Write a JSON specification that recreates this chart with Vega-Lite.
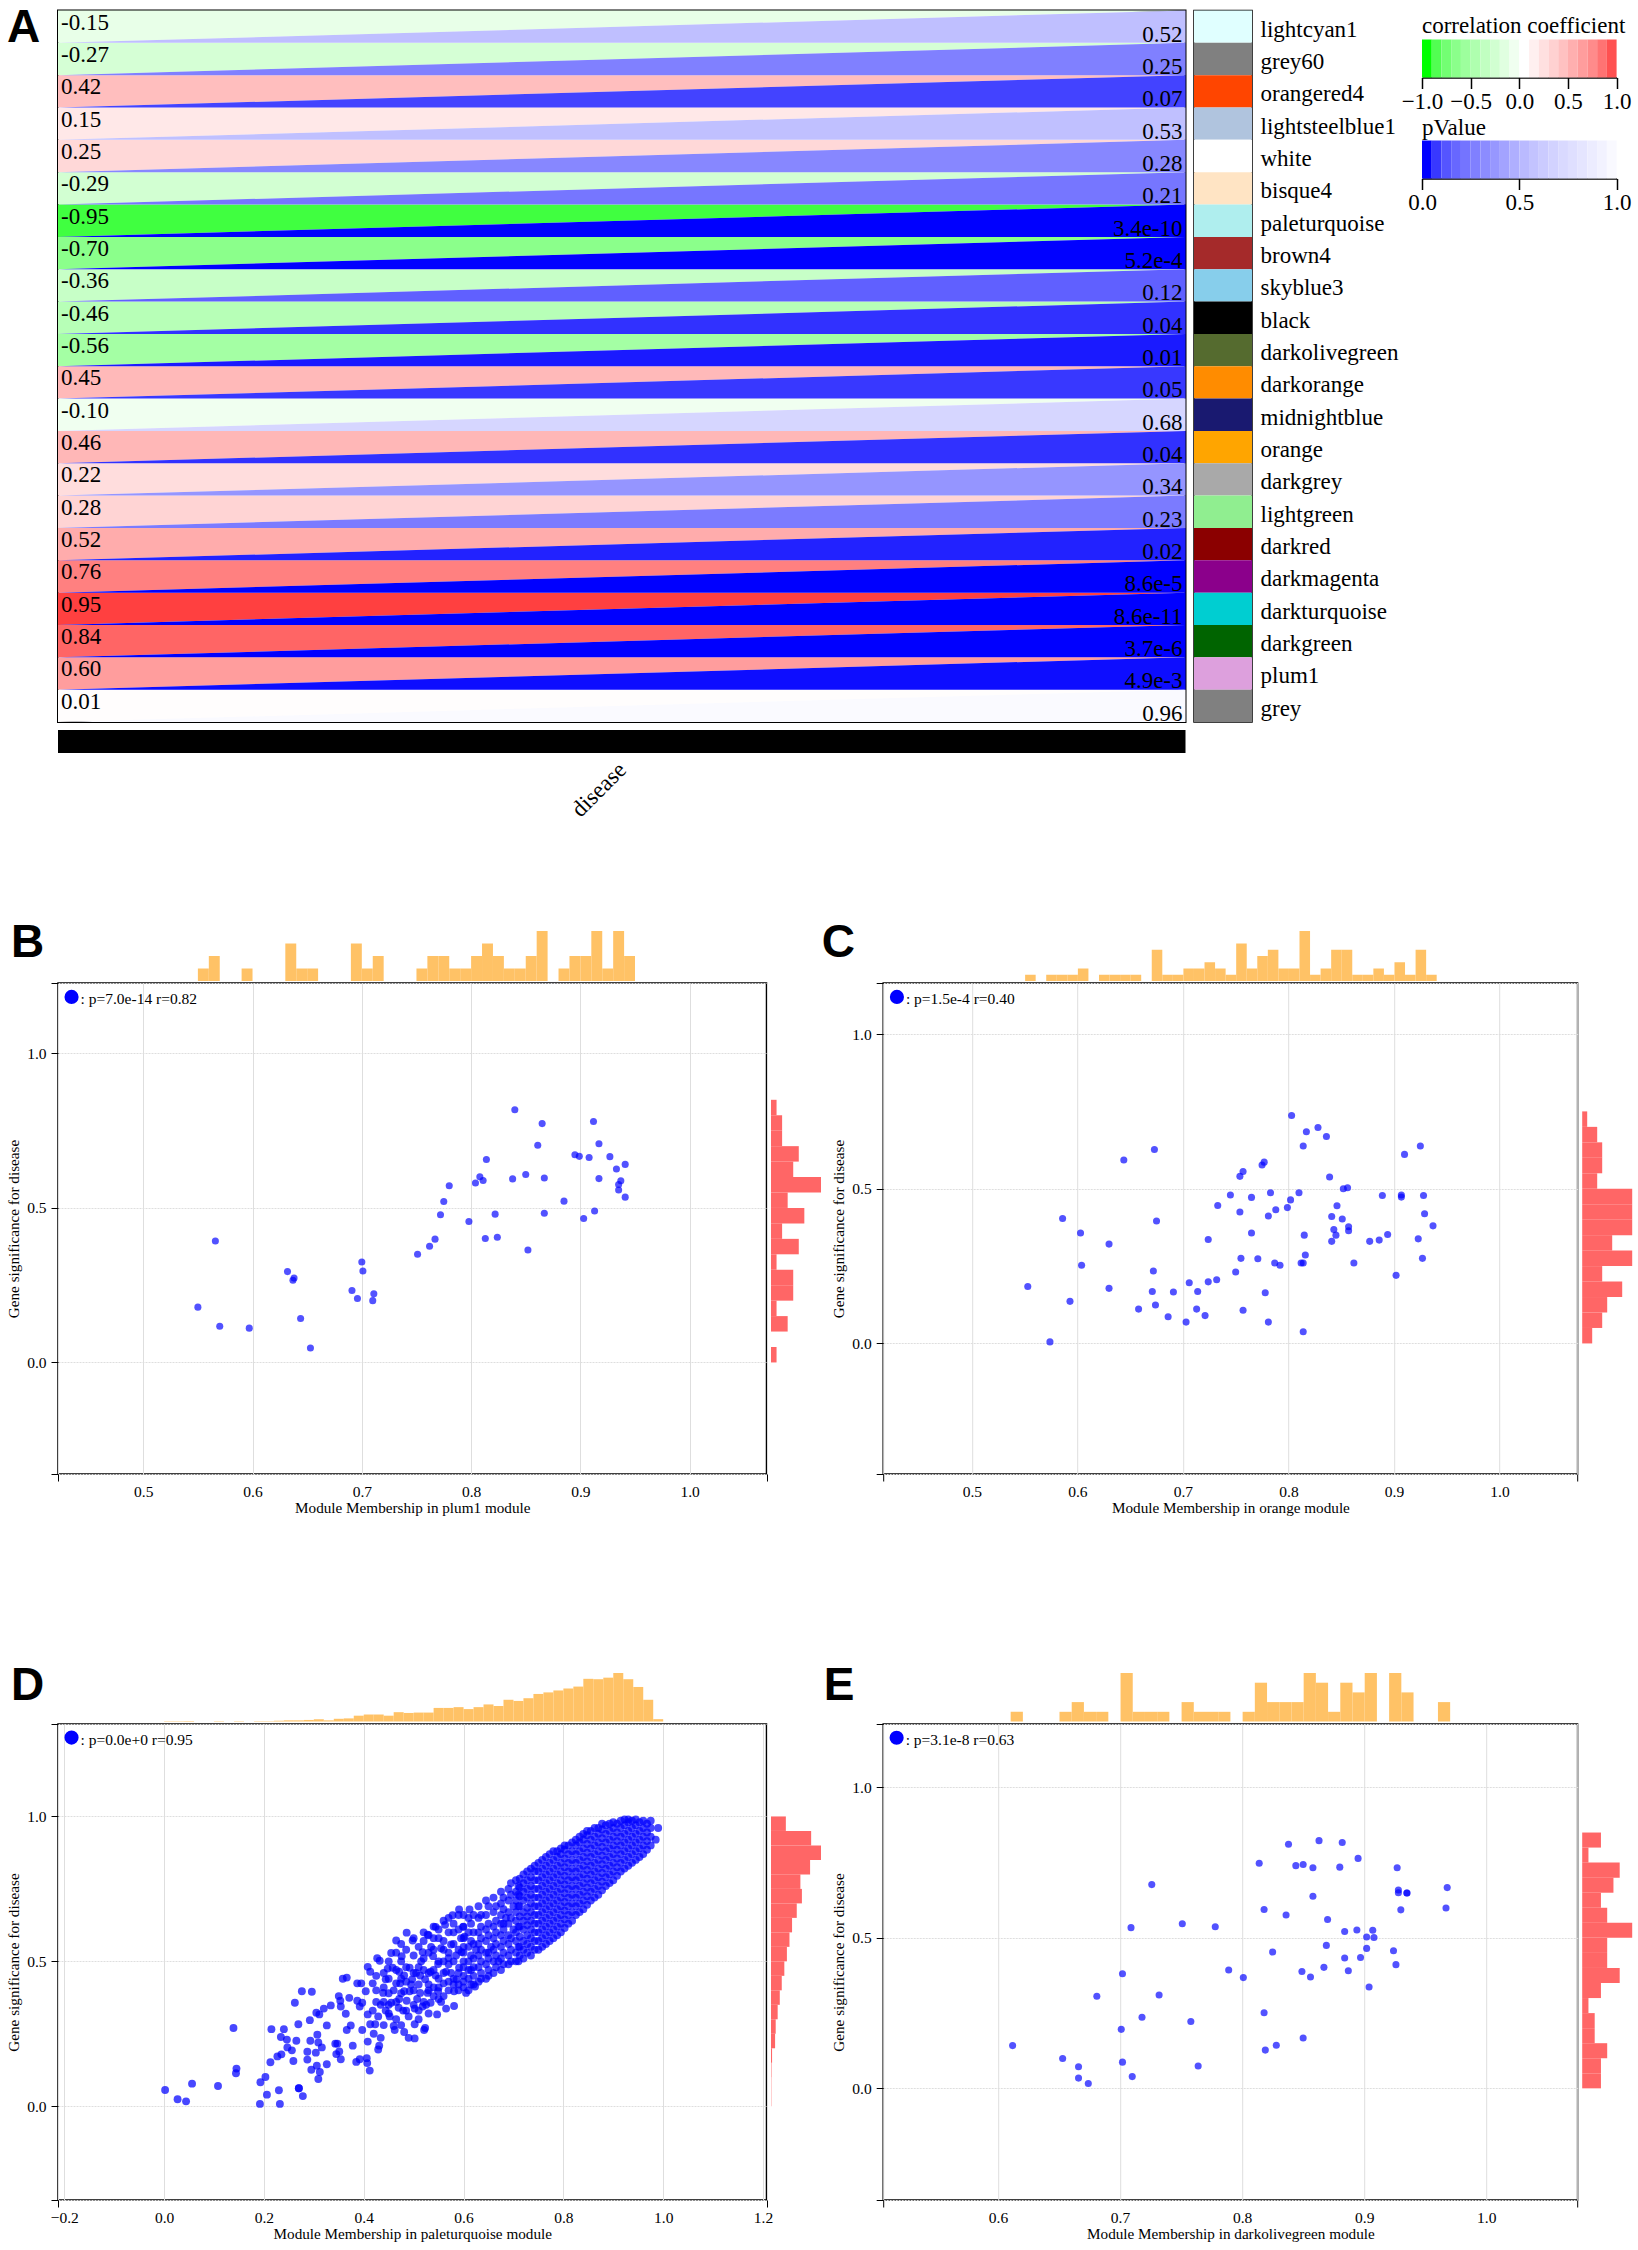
{"$schema":"https://vega.github.io/schema/vega-lite/v6.json","background":"white","padding":{"left":5,"top":3.5,"right":0,"bottom":0},"bounds":"flush","spacing":920.5,"resolve":{"scale":{"color":"independent"}},
"config":{"font":"Liberation Serif","view":{"stroke":null},"axis":{"labelFontSize":15.5,"titleFontSize":15.2,"titleFontWeight":"normal","labelColor":"black","titleColor":"black","tickColor":"black","gridColor":"#dedede","labelOverlap":false,"labelFlush":false}},
"datasets":{
"heat":[{"module":"lightcyan1","row":0,"x":0,"ct":0,"cb":1,"pt":1,"pb":1,"corr":-0.15,"p":0.52},{"module":"lightcyan1","row":0,"x":1,"ct":0,"cb":0,"pt":0,"pb":1,"corr":-0.15,"p":0.52},
{"module":"grey60","row":1,"x":0,"ct":1,"cb":2,"pt":2,"pb":2,"corr":-0.27,"p":0.25},{"module":"grey60","row":1,"x":1,"ct":1,"cb":1,"pt":1,"pb":2,"corr":-0.27,"p":0.25},
{"module":"orangered4","row":2,"x":0,"ct":2,"cb":3,"pt":3,"pb":3,"corr":0.42,"p":0.07},{"module":"orangered4","row":2,"x":1,"ct":2,"cb":2,"pt":2,"pb":3,"corr":0.42,"p":0.07},
{"module":"lightsteelblue1","row":3,"x":0,"ct":3,"cb":4,"pt":4,"pb":4,"corr":0.15,"p":0.53},{"module":"lightsteelblue1","row":3,"x":1,"ct":3,"cb":3,"pt":3,"pb":4,"corr":0.15,"p":0.53},
{"module":"white","row":4,"x":0,"ct":4,"cb":5,"pt":5,"pb":5,"corr":0.25,"p":0.28},{"module":"white","row":4,"x":1,"ct":4,"cb":4,"pt":4,"pb":5,"corr":0.25,"p":0.28},
{"module":"bisque4","row":5,"x":0,"ct":5,"cb":6,"pt":6,"pb":6,"corr":-0.29,"p":0.21},{"module":"bisque4","row":5,"x":1,"ct":5,"cb":5,"pt":5,"pb":6,"corr":-0.29,"p":0.21},
{"module":"paleturquoise","row":6,"x":0,"ct":6,"cb":7,"pt":7,"pb":7,"corr":-0.95,"p":3.4e-10},{"module":"paleturquoise","row":6,"x":1,"ct":6,"cb":6,"pt":6,"pb":7,"corr":-0.95,"p":3.4e-10},
{"module":"brown4","row":7,"x":0,"ct":7,"cb":8,"pt":8,"pb":8,"corr":-0.70,"p":5.2e-4},{"module":"brown4","row":7,"x":1,"ct":7,"cb":7,"pt":7,"pb":8,"corr":-0.70,"p":5.2e-4},
{"module":"skyblue3","row":8,"x":0,"ct":8,"cb":9,"pt":9,"pb":9,"corr":-0.36,"p":0.12},{"module":"skyblue3","row":8,"x":1,"ct":8,"cb":8,"pt":8,"pb":9,"corr":-0.36,"p":0.12},
{"module":"black","row":9,"x":0,"ct":9,"cb":10,"pt":10,"pb":10,"corr":-0.46,"p":0.04},{"module":"black","row":9,"x":1,"ct":9,"cb":9,"pt":9,"pb":10,"corr":-0.46,"p":0.04},
{"module":"darkolivegreen","row":10,"x":0,"ct":10,"cb":11,"pt":11,"pb":11,"corr":-0.56,"p":0.01},{"module":"darkolivegreen","row":10,"x":1,"ct":10,"cb":10,"pt":10,"pb":11,"corr":-0.56,"p":0.01},
{"module":"darkorange","row":11,"x":0,"ct":11,"cb":12,"pt":12,"pb":12,"corr":0.45,"p":0.05},{"module":"darkorange","row":11,"x":1,"ct":11,"cb":11,"pt":11,"pb":12,"corr":0.45,"p":0.05},
{"module":"midnightblue","row":12,"x":0,"ct":12,"cb":13,"pt":13,"pb":13,"corr":-0.10,"p":0.68},{"module":"midnightblue","row":12,"x":1,"ct":12,"cb":12,"pt":12,"pb":13,"corr":-0.10,"p":0.68},
{"module":"orange","row":13,"x":0,"ct":13,"cb":14,"pt":14,"pb":14,"corr":0.46,"p":0.04},{"module":"orange","row":13,"x":1,"ct":13,"cb":13,"pt":13,"pb":14,"corr":0.46,"p":0.04},
{"module":"darkgrey","row":14,"x":0,"ct":14,"cb":15,"pt":15,"pb":15,"corr":0.22,"p":0.34},{"module":"darkgrey","row":14,"x":1,"ct":14,"cb":14,"pt":14,"pb":15,"corr":0.22,"p":0.34},
{"module":"lightgreen","row":15,"x":0,"ct":15,"cb":16,"pt":16,"pb":16,"corr":0.28,"p":0.23},{"module":"lightgreen","row":15,"x":1,"ct":15,"cb":15,"pt":15,"pb":16,"corr":0.28,"p":0.23},
{"module":"darkred","row":16,"x":0,"ct":16,"cb":17,"pt":17,"pb":17,"corr":0.52,"p":0.02},{"module":"darkred","row":16,"x":1,"ct":16,"cb":16,"pt":16,"pb":17,"corr":0.52,"p":0.02},
{"module":"darkmagenta","row":17,"x":0,"ct":17,"cb":18,"pt":18,"pb":18,"corr":0.76,"p":8.6e-5},{"module":"darkmagenta","row":17,"x":1,"ct":17,"cb":17,"pt":17,"pb":18,"corr":0.76,"p":8.6e-5},
{"module":"darkturquoise","row":18,"x":0,"ct":18,"cb":19,"pt":19,"pb":19,"corr":0.95,"p":8.6e-11},{"module":"darkturquoise","row":18,"x":1,"ct":18,"cb":18,"pt":18,"pb":19,"corr":0.95,"p":8.6e-11},
{"module":"darkgreen","row":19,"x":0,"ct":19,"cb":20,"pt":20,"pb":20,"corr":0.84,"p":3.7e-6},{"module":"darkgreen","row":19,"x":1,"ct":19,"cb":19,"pt":19,"pb":20,"corr":0.84,"p":3.7e-6},
{"module":"plum1","row":20,"x":0,"ct":20,"cb":21,"pt":21,"pb":21,"corr":0.60,"p":4.9e-3},{"module":"plum1","row":20,"x":1,"ct":20,"cb":20,"pt":20,"pb":21,"corr":0.60,"p":4.9e-3},
{"module":"grey","row":21,"x":0,"ct":21,"cb":22,"pt":22,"pb":22,"corr":0.01,"p":0.96},{"module":"grey","row":21,"x":1,"ct":21,"cb":21,"pt":21,"pb":22,"corr":0.01,"p":0.96}],
"modules":[{"module":"lightcyan1","row":0,"c":"-0.15","q":"0.52"},{"module":"grey60","row":1,"c":"-0.27","q":"0.25"},{"module":"orangered4","row":2,"c":"0.42","q":"0.07"},{"module":"lightsteelblue1","row":3,"c":"0.15","q":"0.53"},{"module":"white","row":4,"c":"0.25","q":"0.28"},{"module":"bisque4","row":5,"c":"-0.29","q":"0.21"},{"module":"paleturquoise","row":6,"c":"-0.95","q":"3.4e-10"},{"module":"brown4","row":7,"c":"-0.70","q":"5.2e-4"},{"module":"skyblue3","row":8,"c":"-0.36","q":"0.12"},{"module":"black","row":9,"c":"-0.46","q":"0.04"},{"module":"darkolivegreen","row":10,"c":"-0.56","q":"0.01"},{"module":"darkorange","row":11,"c":"0.45","q":"0.05"},{"module":"midnightblue","row":12,"c":"-0.10","q":"0.68"},{"module":"orange","row":13,"c":"0.46","q":"0.04"},{"module":"darkgrey","row":14,"c":"0.22","q":"0.34"},{"module":"lightgreen","row":15,"c":"0.28","q":"0.23"},{"module":"darkred","row":16,"c":"0.52","q":"0.02"},{"module":"darkmagenta","row":17,"c":"0.76","q":"8.6e-5"},{"module":"darkturquoise","row":18,"c":"0.95","q":"8.6e-11"},{"module":"darkgreen","row":19,"c":"0.84","q":"3.7e-6"},{"module":"plum1","row":20,"c":"0.60","q":"4.9e-3"},{"module":"grey","row":21,"c":"0.01","q":"0.96"}],
"legC":[{"lo":-1,"hi":-0.9},{"lo":-0.9,"hi":-0.8},{"lo":-0.8,"hi":-0.7},{"lo":-0.7,"hi":-0.6},{"lo":-0.6,"hi":-0.5},{"lo":-0.5,"hi":-0.4},{"lo":-0.4,"hi":-0.3},{"lo":-0.3,"hi":-0.2},{"lo":-0.2,"hi":-0.1},{"lo":-0.1,"hi":0},{"lo":0,"hi":0.1},{"lo":0.1,"hi":0.2},{"lo":0.2,"hi":0.3},{"lo":0.3,"hi":0.4},{"lo":0.4,"hi":0.5},{"lo":0.5,"hi":0.6},{"lo":0.6,"hi":0.7},{"lo":0.7,"hi":0.8},{"lo":0.8,"hi":0.9},{"lo":0.9,"hi":1}],
"legP":[{"lo":0,"hi":0.05},{"lo":0.05,"hi":0.1},{"lo":0.1,"hi":0.15},{"lo":0.15,"hi":0.2},{"lo":0.2,"hi":0.25},{"lo":0.25,"hi":0.3},{"lo":0.3,"hi":0.35},{"lo":0.35,"hi":0.4},{"lo":0.4,"hi":0.45},{"lo":0.45,"hi":0.5},{"lo":0.5,"hi":0.55},{"lo":0.55,"hi":0.6},{"lo":0.6,"hi":0.65},{"lo":0.65,"hi":0.7},{"lo":0.7,"hi":0.75},{"lo":0.75,"hi":0.8},{"lo":0.8,"hi":0.85},{"lo":0.85,"hi":0.9},{"lo":0.9,"hi":0.95},{"lo":0.95,"hi":1}],
"pB":[{"x":0.550,"y":0.179},{"x":0.566,"y":0.393},{"x":0.570,"y":0.117},{"x":0.597,"y":0.111},{"x":0.632,"y":0.294},{"x":0.638,"y":0.273},{"x":0.637,"y":0.266},{"x":0.644,"y":0.142},{"x":0.653,"y":0.047},{"x":0.691,"y":0.233},{"x":0.696,"y":0.207},{"x":0.700,"y":0.325},{"x":0.701,"y":0.296},{"x":0.710,"y":0.200},{"x":0.711,"y":0.222},{"x":0.751,"y":0.350},{"x":0.762,"y":0.376},{"x":0.767,"y":0.399},{"x":0.772,"y":0.478},{"x":0.775,"y":0.521},{"x":0.780,"y":0.572},{"x":0.798,"y":0.456},{"x":0.804,"y":0.581},{"x":0.808,"y":0.601},{"x":0.811,"y":0.589},{"x":0.813,"y":0.401},{"x":0.814,"y":0.657},{"x":0.822,"y":0.480},{"x":0.824,"y":0.405},{"x":0.838,"y":0.594},{"x":0.840,"y":0.818},{"x":0.850,"y":0.608},{"x":0.852,"y":0.364},{"x":0.861,"y":0.703},{"x":0.865,"y":0.773},{"x":0.867,"y":0.483},{"x":0.867,"y":0.597},{"x":0.885,"y":0.522},{"x":0.895,"y":0.672},{"x":0.899,"y":0.667},{"x":0.903,"y":0.466},{"x":0.908,"y":0.663},{"x":0.912,"y":0.780},{"x":0.913,"y":0.490},{"x":0.917,"y":0.708},{"x":0.917,"y":0.595},{"x":0.927,"y":0.666},{"x":0.933,"y":0.626},{"x":0.935,"y":0.576},{"x":0.937,"y":0.588},{"x":0.935,"y":0.558},{"x":0.941,"y":0.641},{"x":0.941,"y":0.535}],
"pC":[{"x":0.553,"y":0.184},{"x":0.574,"y":0.005},{"x":0.586,"y":0.404},{"x":0.593,"y":0.136},{"x":0.603,"y":0.357},{"x":0.604,"y":0.253},{"x":0.630,"y":0.321},{"x":0.630,"y":0.178},{"x":0.644,"y":0.593},{"x":0.658,"y":0.111},{"x":0.671,"y":0.168},{"x":0.672,"y":0.234},{"x":0.673,"y":0.627},{"x":0.674,"y":0.124},{"x":0.675,"y":0.396},{"x":0.686,"y":0.086},{"x":0.691,"y":0.166},{"x":0.703,"y":0.069},{"x":0.706,"y":0.196},{"x":0.713,"y":0.111},{"x":0.714,"y":0.168},{"x":0.721,"y":0.090},{"x":0.724,"y":0.336},{"x":0.724,"y":0.199},{"x":0.732,"y":0.206},{"x":0.733,"y":0.446},{"x":0.745,"y":0.480},{"x":0.750,"y":0.231},{"x":0.754,"y":0.540},{"x":0.754,"y":0.425},{"x":0.755,"y":0.275},{"x":0.757,"y":0.107},{"x":0.757,"y":0.556},{"x":0.765,"y":0.472},{"x":0.765,"y":0.357},{"x":0.771,"y":0.274},{"x":0.775,"y":0.577},{"x":0.777,"y":0.586},{"x":0.778,"y":0.164},{"x":0.781,"y":0.412},{"x":0.781,"y":0.069},{"x":0.783,"y":0.487},{"x":0.787,"y":0.260},{"x":0.788,"y":0.432},{"x":0.792,"y":0.253},{"x":0.799,"y":0.439},{"x":0.802,"y":0.464},{"x":0.803,"y":0.737},{"x":0.810,"y":0.487},{"x":0.812,"y":0.260},{"x":0.814,"y":0.260},{"x":0.814,"y":0.638},{"x":0.814,"y":0.038},{"x":0.815,"y":0.350},{"x":0.816,"y":0.286},{"x":0.817,"y":0.684},{"x":0.828,"y":0.698},{"x":0.836,"y":0.669},{"x":0.839,"y":0.538},{"x":0.841,"y":0.410},{"x":0.841,"y":0.330},{"x":0.843,"y":0.368},{"x":0.845,"y":0.350},{"x":0.846,"y":0.445},{"x":0.851,"y":0.402},{"x":0.852,"y":0.500},{"x":0.856,"y":0.503},{"x":0.857,"y":0.377},{"x":0.857,"y":0.364},{"x":0.862,"y":0.260},{"x":0.877,"y":0.330},{"x":0.886,"y":0.334},{"x":0.889,"y":0.478},{"x":0.894,"y":0.352},{"x":0.902,"y":0.220},{"x":0.907,"y":0.480},{"x":0.907,"y":0.473},{"x":0.910,"y":0.611},{"x":0.923,"y":0.338},{"x":0.925,"y":0.638},{"x":0.927,"y":0.275},{"x":0.928,"y":0.478},{"x":0.929,"y":0.419},{"x":0.937,"y":0.380}],
"pE":[{"x":0.612,"y":0.142},{"x":0.653,"y":0.099},{"x":0.666,"y":0.072},{"x":0.666,"y":0.034},{"x":0.674,"y":0.016},{"x":0.681,"y":0.306},{"x":0.701,"y":0.196},{"x":0.702,"y":0.381},{"x":0.702,"y":0.087},{"x":0.709,"y":0.534},{"x":0.710,"y":0.039},{"x":0.718,"y":0.236},{"x":0.726,"y":0.677},{"x":0.732,"y":0.310},{"x":0.751,"y":0.547},{"x":0.758,"y":0.222},{"x":0.764,"y":0.074},{"x":0.778,"y":0.537},{"x":0.789,"y":0.393},{"x":0.801,"y":0.368},{"x":0.814,"y":0.748},{"x":0.818,"y":0.251},{"x":0.818,"y":0.594},{"x":0.819,"y":0.127},{"x":0.825,"y":0.453},{"x":0.828,"y":0.143},{"x":0.836,"y":0.576},{"x":0.838,"y":0.811},{"x":0.844,"y":0.740},{"x":0.849,"y":0.388},{"x":0.850,"y":0.167},{"x":0.850,"y":0.744},{"x":0.856,"y":0.370},{"x":0.858,"y":0.733},{"x":0.858,"y":0.638},{"x":0.863,"y":0.823},{"x":0.867,"y":0.402},{"x":0.869,"y":0.475},{"x":0.870,"y":0.561},{"x":0.880,"y":0.735},{"x":0.882,"y":0.817},{"x":0.884,"y":0.521},{"x":0.884,"y":0.433},{"x":0.887,"y":0.391},{"x":0.894,"y":0.526},{"x":0.895,"y":0.764},{"x":0.897,"y":0.435},{"x":0.902,"y":0.503},{"x":0.902,"y":0.465},{"x":0.904,"y":0.337},{"x":0.907,"y":0.525},{"x":0.908,"y":0.501},{"x":0.924,"y":0.457},{"x":0.926,"y":0.411},{"x":0.927,"y":0.733},{"x":0.928,"y":0.659},{"x":0.928,"y":0.650},{"x":0.930,"y":0.593},{"x":0.935,"y":0.649},{"x":0.935,"y":0.649},{"x":0.967,"y":0.599},{"x":0.968,"y":0.667}],
"pD":[{"x":0.002,"y":0.056},{"x":0.027,"y":0.024},{"x":0.044,"y":0.017},{"x":0.056,"y":0.078},{"x":0.108,"y":0.070},{"x":0.139,"y":0.270},{"x":0.145,"y":0.130},{"x":0.144,"y":0.114},{"x":0.192,"y":0.008},{"x":0.193,"y":0.083},{"x":0.203,"y":0.101},{"x":0.206,"y":0.040},{"x":0.213,"y":0.152},{"x":0.215,"y":0.266},{"x":0.227,"y":0.172},{"x":0.230,"y":0.055},{"x":0.232,"y":0.008},{"x":0.234,"y":0.239},{"x":0.235,"y":0.179},{"x":0.240,"y":0.266},{"x":0.246,"y":0.230},{"x":0.247,"y":0.203},{"x":0.256,"y":0.193},{"x":0.259,"y":0.156},{"x":0.262,"y":0.357},{"x":0.265,"y":0.226},{"x":0.269,"y":0.283},{"x":0.270,"y":0.062},{"x":0.270,"y":0.062},{"x":0.276,"y":0.397},{"x":0.278,"y":0.035},{"x":0.287,"y":0.188},{"x":0.287,"y":0.161},{"x":0.292,"y":0.297},{"x":0.295,"y":0.126},{"x":0.293,"y":0.226},{"x":0.296,"y":0.395},{"x":0.304,"y":0.185},{"x":0.306,"y":0.140},{"x":0.307,"y":0.247},{"x":0.309,"y":0.094},{"x":0.309,"y":0.220},{"x":0.312,"y":0.118},{"x":0.316,"y":0.203},{"x":0.305,"y":0.323},{"x":0.311,"y":0.317},{"x":0.320,"y":0.337},{"x":0.326,"y":0.279},{"x":0.326,"y":0.145},{"x":0.334,"y":0.348},{"x":0.343,"y":0.216},{"x":0.347,"y":0.216},{"x":0.345,"y":0.180},{"x":0.350,"y":0.380},{"x":0.353,"y":0.364},{"x":0.354,"y":0.344},{"x":0.351,"y":0.189},{"x":0.354,"y":0.162},{"x":0.358,"y":0.440},{"x":0.366,"y":0.444},{"x":0.364,"y":0.319},{"x":0.366,"y":0.263},{"x":0.371,"y":0.374},{"x":0.374,"y":0.279},{"x":0.378,"y":0.209},{"x":0.385,"y":0.153},{"x":0.387,"y":0.424},{"x":0.392,"y":0.162},{"x":0.387,"y":0.364},{"x":0.395,"y":0.424},{"x":0.397,"y":0.357},{"x":0.392,"y":0.344},{"x":0.397,"y":0.263},{"x":0.406,"y":0.166},{"x":0.407,"y":0.149},{"x":0.408,"y":0.223},{"x":0.412,"y":0.123},{"x":0.408,"y":0.481},{"x":0.413,"y":0.464},{"x":0.418,"y":0.424},{"x":0.404,"y":0.397},{"x":0.418,"y":0.330},{"x":0.420,"y":0.250},{"x":0.429,"y":0.196},{"x":0.427,"y":0.511},{"x":0.432,"y":0.502},{"x":0.431,"y":0.209},{"x":0.434,"y":0.236},{"x":0.439,"y":0.391},{"x":0.444,"y":0.438},{"x":0.448,"y":0.475},{"x":0.450,"y":0.350},{"x":0.452,"y":0.310},{"x":0.455,"y":0.529},{"x":0.458,"y":0.478},{"x":0.460,"y":0.277},{"x":0.462,"y":0.263},{"x":0.465,"y":0.572},{"x":0.471,"y":0.464},{"x":0.473,"y":0.424},{"x":0.479,"y":0.330},{"x":0.476,"y":0.518},{"x":0.481,"y":0.256},{"x":0.486,"y":0.599},{"x":0.490,"y":0.236},{"x":0.498,"y":0.572},{"x":0.502,"y":0.234},{"x":0.502,"y":0.283},{"x":0.492,"y":0.397},{"x":0.507,"y":0.370},{"x":0.513,"y":0.451},{"x":0.518,"y":0.532},{"x":0.523,"y":0.270},{"x":0.521,"y":0.263},{"x":0.528,"y":0.592},{"x":0.534,"y":0.464},{"x":0.544,"y":0.619},{"x":0.549,"y":0.397},{"x":0.547,"y":0.317},{"x":0.563,"y":0.626},{"x":0.565,"y":0.337},{"x":0.581,"y":0.346},{"x":0.578,"y":0.659},{"x":0.591,"y":0.679},{"x":0.599,"y":0.619},{"x":0.605,"y":0.391},{"x":0.612,"y":0.679},{"x":0.623,"y":0.413},
{"x":0.408,"y":0.317},{"x":0.413,"y":0.283},{"x":0.423,"y":0.283},{"x":0.429,"y":0.310},{"x":0.434,"y":0.350},{"x":0.444,"y":0.330},{"x":0.455,"y":0.357},{"x":0.465,"y":0.424},{"x":0.471,"y":0.370},{"x":0.481,"y":0.397},{"x":0.486,"y":0.364},{"x":0.481,"y":0.451},{"x":0.492,"y":0.478},{"x":0.497,"y":0.438},{"x":0.502,"y":0.337},{"x":0.513,"y":0.391},{"x":0.518,"y":0.344},{"x":0.523,"y":0.438},{"x":0.528,"y":0.391},{"x":0.534,"y":0.357},{"x":0.539,"y":0.518},{"x":0.544,"y":0.451},{"x":0.549,"y":0.491},{"x":0.555,"y":0.545},{"x":0.560,"y":0.424},{"x":0.565,"y":0.464},{"x":0.570,"y":0.511},{"x":0.575,"y":0.558},{"x":0.581,"y":0.397},{"x":0.586,"y":0.438},{"x":0.591,"y":0.478},{"x":0.596,"y":0.532},{"x":0.602,"y":0.585},
{"x":0.46,"y":0.4},{"x":0.47,"y":0.34},{"x":0.475,"y":0.44},{"x":0.49,"y":0.31},{"x":0.495,"y":0.42},{"x":0.505,"y":0.46},{"x":0.51,"y":0.3},{"x":0.515,"y":0.5},{"x":0.525,"y":0.35},{"x":0.53,"y":0.42},{"x":0.535,"y":0.55},{"x":0.54,"y":0.38},{"x":0.55,"y":0.44},{"x":0.555,"y":0.36},{"x":0.56,"y":0.5},{"x":0.57,"y":0.4},{"x":0.575,"y":0.46},{"x":0.58,"y":0.6},{"x":0.585,"y":0.52},{"x":0.59,"y":0.42},{"x":0.595,"y":0.58},{"x":0.61,"y":0.44},{"x":0.62,"y":0.48},{"x":0.625,"y":0.54},{"x":0.635,"y":0.62},{"x":0.65,"y":0.47},{"x":0.655,"y":0.55},{"x":0.665,"y":0.6},{"x":0.67,"y":0.5},{"x":0.68,"y":0.57},{"x":0.685,"y":0.65},{"x":0.695,"y":0.54},{"x":0.7,"y":0.61},{"x":0.7,"y":0.69},
{"x":0.425,"y":0.36},{"x":0.425,"y":0.4},{"x":0.425,"y":0.45},{"x":0.44,"y":0.28},{"x":0.44,"y":0.36},{"x":0.44,"y":0.41},{"x":0.44,"y":0.46},{"x":0.45,"y":0.32},{"x":0.45,"y":0.39},{"x":0.45,"y":0.44},{"x":0.45,"y":0.5},{"x":0.465,"y":0.3},{"x":0.465,"y":0.36},{"x":0.465,"y":0.47},{"x":0.465,"y":0.53},{"x":0.475,"y":0.28},{"x":0.475,"y":0.39},{"x":0.475,"y":0.5},{"x":0.475,"y":0.56},{"x":0.485,"y":0.33},{"x":0.485,"y":0.43},{"x":0.485,"y":0.48},{"x":0.485,"y":0.54},{"x":0.5,"y":0.35},{"x":0.5,"y":0.4},{"x":0.5,"y":0.46},{"x":0.5,"y":0.52},{"x":0.5,"y":0.58},{"x":0.51,"y":0.33},{"x":0.51,"y":0.42},{"x":0.51,"y":0.48},{"x":0.51,"y":0.55},{"x":0.52,"y":0.36},{"x":0.52,"y":0.47},{"x":0.52,"y":0.51},{"x":0.52,"y":0.57},{"x":0.52,"y":0.6},{"x":0.53,"y":0.32},{"x":0.53,"y":0.4},{"x":0.53,"y":0.46},{"x":0.53,"y":0.53},{"x":0.53,"y":0.59},{"x":0.54,"y":0.41},{"x":0.54,"y":0.47},{"x":0.54,"y":0.54},{"x":0.54,"y":0.58},{"x":0.54,"y":0.62},{"x":0.55,"y":0.37},{"x":0.55,"y":0.41},{"x":0.55,"y":0.5},{"x":0.55,"y":0.58},{"x":0.55,"y":0.61},{"x":0.56,"y":0.38},{"x":0.56,"y":0.46},{"x":0.56,"y":0.54},{"x":0.56,"y":0.57},{"x":0.56,"y":0.64},{"x":0.57,"y":0.43},{"x":0.57,"y":0.49},{"x":0.57,"y":0.53},{"x":0.57,"y":0.6},{"x":0.57,"y":0.65},{"x":0.58,"y":0.42},{"x":0.58,"y":0.44},{"x":0.58,"y":0.5},{"x":0.58,"y":0.56},{"x":0.58,"y":0.63},{"x":0.59,"y":0.4},{"x":0.59,"y":0.46},{"x":0.59,"y":0.54},{"x":0.59,"y":0.61},{"x":0.59,"y":0.66},{"x":0.6,"y":0.41},{"x":0.6,"y":0.43},{"x":0.6,"y":0.48},{"x":0.6,"y":0.53},{"x":0.6,"y":0.58},{"x":0.6,"y":0.62},{"x":0.61,"y":0.4},{"x":0.61,"y":0.47},{"x":0.61,"y":0.5},{"x":0.61,"y":0.55},{"x":0.61,"y":0.6},{"x":0.61,"y":0.65},{"x":0.62,"y":0.42},{"x":0.62,"y":0.45},{"x":0.62,"y":0.51},{"x":0.62,"y":0.56},{"x":0.62,"y":0.6},{"x":0.62,"y":0.66},{"x":0.635,"y":0.44},{"x":0.635,"y":0.46},{"x":0.635,"y":0.5},{"x":0.635,"y":0.54},{"x":0.635,"y":0.58},{"x":0.635,"y":0.66},{"x":0.65,"y":0.45},{"x":0.65,"y":0.51},{"x":0.65,"y":0.53},{"x":0.65,"y":0.59},{"x":0.65,"y":0.63},{"x":0.65,"y":0.69},{"x":0.665,"y":0.48},{"x":0.665,"y":0.52},{"x":0.665,"y":0.56},{"x":0.665,"y":0.64},{"x":0.665,"y":0.69},{"x":0.68,"y":0.49},{"x":0.68,"y":0.53},{"x":0.68,"y":0.61},{"x":0.68,"y":0.63},{"x":0.68,"y":0.68},{"x":0.68,"y":0.72},{"x":0.695,"y":0.5},{"x":0.695,"y":0.58},{"x":0.695,"y":0.65},{"x":0.695,"y":0.73},{"x":0.695,"y":0.77},{"x":0.71,"y":0.5},{"x":0.71,"y":0.55},{"x":0.71,"y":0.62},{"x":0.71,"y":0.69},{"x":0.71,"y":0.73},{"x":0.71,"y":0.76},
{"x":0.6,"y":0.45},{"x":0.6,"y":0.5},{"x":0.6,"y":0.55},{"x":0.6,"y":0.66},{"x":0.615,"y":0.42},{"x":0.615,"y":0.47},{"x":0.615,"y":0.52},{"x":0.615,"y":0.57},{"x":0.615,"y":0.63},
{"x":0.63,"y":0.43},{"x":0.63,"y":0.48},{"x":0.63,"y":0.52},{"x":0.63,"y":0.56},{"x":0.63,"y":0.6},{"x":0.63,"y":0.65},{"x":0.63,"y":0.69},
{"x":0.645,"y":0.44},{"x":0.645,"y":0.49},{"x":0.645,"y":0.53},{"x":0.645,"y":0.57},{"x":0.645,"y":0.61},{"x":0.645,"y":0.66},{"x":0.645,"y":0.71},
{"x":0.66,"y":0.46},{"x":0.66,"y":0.5},{"x":0.66,"y":0.54},{"x":0.66,"y":0.58},{"x":0.66,"y":0.62},{"x":0.66,"y":0.67},{"x":0.66,"y":0.72},
{"x":0.675,"y":0.47},{"x":0.675,"y":0.51},{"x":0.675,"y":0.55},{"x":0.675,"y":0.59},{"x":0.675,"y":0.63},{"x":0.675,"y":0.66},{"x":0.675,"y":0.7},{"x":0.675,"y":0.74},
{"x":0.69,"y":0.49},{"x":0.69,"y":0.52},{"x":0.69,"y":0.56},{"x":0.69,"y":0.59},{"x":0.69,"y":0.63},{"x":0.69,"y":0.67},{"x":0.69,"y":0.71},{"x":0.69,"y":0.75},
{"x":0.705,"y":0.5},{"x":0.705,"y":0.53},{"x":0.705,"y":0.57},{"x":0.705,"y":0.6},{"x":0.705,"y":0.64},{"x":0.705,"y":0.67},{"x":0.705,"y":0.71},{"x":0.705,"y":0.74},{"x":0.705,"y":0.78},
{"x":0.72,"y":0.51},{"x":0.72,"y":0.54},{"x":0.72,"y":0.57},{"x":0.72,"y":0.61},{"x":0.72,"y":0.64},{"x":0.72,"y":0.67},{"x":0.72,"y":0.71},{"x":0.72,"y":0.74},{"x":0.72,"y":0.77},{"x":0.72,"y":0.8},
{"x":0.735,"y":0.52},{"x":0.735,"y":0.55},{"x":0.735,"y":0.58},{"x":0.735,"y":0.61},{"x":0.735,"y":0.64},{"x":0.735,"y":0.67},{"x":0.735,"y":0.7},{"x":0.735,"y":0.73},{"x":0.735,"y":0.76},{"x":0.735,"y":0.79},{"x":0.735,"y":0.82},
{"x":0.75,"y":0.54},{"x":0.75,"y":0.57},{"x":0.75,"y":0.6},{"x":0.75,"y":0.63},{"x":0.75,"y":0.66},{"x":0.75,"y":0.69},{"x":0.75,"y":0.72},{"x":0.75,"y":0.75},{"x":0.75,"y":0.78},{"x":0.75,"y":0.81},{"x":0.75,"y":0.84},
{"x":0.765,"y":0.56},{"x":0.765,"y":0.59},{"x":0.765,"y":0.62},{"x":0.765,"y":0.65},{"x":0.765,"y":0.68},{"x":0.765,"y":0.71},{"x":0.765,"y":0.74},{"x":0.765,"y":0.77},{"x":0.765,"y":0.8},{"x":0.765,"y":0.83},{"x":0.765,"y":0.86},
{"x":0.78,"y":0.58},{"x":0.78,"y":0.61},{"x":0.78,"y":0.64},{"x":0.78,"y":0.67},{"x":0.78,"y":0.7},{"x":0.78,"y":0.73},{"x":0.78,"y":0.76},{"x":0.78,"y":0.79},{"x":0.78,"y":0.82},{"x":0.78,"y":0.85},{"x":0.78,"y":0.88},
{"x":0.795,"y":0.6},{"x":0.795,"y":0.63},{"x":0.795,"y":0.66},{"x":0.795,"y":0.69},{"x":0.795,"y":0.72},{"x":0.795,"y":0.75},{"x":0.795,"y":0.78},{"x":0.795,"y":0.81},{"x":0.795,"y":0.84},{"x":0.795,"y":0.87},{"x":0.795,"y":0.89},
{"x":0.81,"y":0.63},{"x":0.81,"y":0.66},{"x":0.81,"y":0.69},{"x":0.81,"y":0.72},{"x":0.81,"y":0.75},{"x":0.81,"y":0.78},{"x":0.81,"y":0.81},{"x":0.81,"y":0.84},{"x":0.81,"y":0.87},{"x":0.81,"y":0.9},
{"x":0.825,"y":0.66},{"x":0.825,"y":0.69},{"x":0.825,"y":0.72},{"x":0.825,"y":0.75},{"x":0.825,"y":0.78},{"x":0.825,"y":0.81},{"x":0.825,"y":0.84},{"x":0.825,"y":0.87},{"x":0.825,"y":0.9},{"x":0.825,"y":0.92},
{"x":0.84,"y":0.68},{"x":0.84,"y":0.71},{"x":0.84,"y":0.74},{"x":0.84,"y":0.77},{"x":0.84,"y":0.8},{"x":0.84,"y":0.83},{"x":0.84,"y":0.86},{"x":0.84,"y":0.89},{"x":0.84,"y":0.92},{"x":0.84,"y":0.94},
{"x":0.855,"y":0.71},{"x":0.855,"y":0.74},{"x":0.855,"y":0.77},{"x":0.855,"y":0.8},{"x":0.855,"y":0.83},{"x":0.855,"y":0.86},{"x":0.855,"y":0.89},{"x":0.855,"y":0.92},{"x":0.855,"y":0.95},
{"x":0.87,"y":0.73},{"x":0.87,"y":0.76},{"x":0.87,"y":0.79},{"x":0.87,"y":0.82},{"x":0.87,"y":0.85},{"x":0.87,"y":0.88},{"x":0.87,"y":0.91},{"x":0.87,"y":0.94},{"x":0.87,"y":0.96},
{"x":0.885,"y":0.76},{"x":0.885,"y":0.79},{"x":0.885,"y":0.82},{"x":0.885,"y":0.85},{"x":0.885,"y":0.88},{"x":0.885,"y":0.91},{"x":0.885,"y":0.94},{"x":0.885,"y":0.97},
{"x":0.9,"y":0.78},{"x":0.9,"y":0.81},{"x":0.9,"y":0.84},{"x":0.9,"y":0.87},{"x":0.9,"y":0.9},{"x":0.9,"y":0.93},{"x":0.9,"y":0.96},{"x":0.9,"y":0.98},
{"x":0.915,"y":0.81},{"x":0.915,"y":0.84},{"x":0.915,"y":0.87},{"x":0.915,"y":0.9},{"x":0.915,"y":0.93},{"x":0.915,"y":0.96},{"x":0.915,"y":0.985},
{"x":0.93,"y":0.83},{"x":0.93,"y":0.86},{"x":0.93,"y":0.89},{"x":0.93,"y":0.92},{"x":0.93,"y":0.95},{"x":0.93,"y":0.98},{"x":0.93,"y":0.99},
{"x":0.945,"y":0.85},{"x":0.945,"y":0.88},{"x":0.945,"y":0.91},{"x":0.945,"y":0.94},{"x":0.945,"y":0.97},{"x":0.945,"y":0.99},
{"x":0.96,"y":0.87},{"x":0.96,"y":0.9},{"x":0.96,"y":0.93},{"x":0.96,"y":0.96},{"x":0.96,"y":0.985},
{"x":0.975,"y":0.9},{"x":0.975,"y":0.93},{"x":0.975,"y":0.96},{"x":0.975,"y":0.985},{"x":0.985,"y":0.92},{"x":0.99,"y":0.96},
{"x":0.7125,"y":0.52},{"x":0.7125,"y":0.55},{"x":0.7125,"y":0.585},{"x":0.7125,"y":0.62},{"x":0.7125,"y":0.655},{"x":0.7125,"y":0.69},{"x":0.7125,"y":0.725},{"x":0.7125,"y":0.755},{"x":0.7125,"y":0.785},
{"x":0.7275,"y":0.53},{"x":0.7275,"y":0.56},{"x":0.7275,"y":0.59},{"x":0.7275,"y":0.625},{"x":0.7275,"y":0.655},{"x":0.7275,"y":0.685},{"x":0.7275,"y":0.72},{"x":0.7275,"y":0.75},{"x":0.7275,"y":0.78},{"x":0.7275,"y":0.81},
{"x":0.7425,"y":0.54},{"x":0.7425,"y":0.57},{"x":0.7425,"y":0.6},{"x":0.7425,"y":0.63},{"x":0.7425,"y":0.66},{"x":0.7425,"y":0.69},{"x":0.7425,"y":0.72},{"x":0.7425,"y":0.75},{"x":0.7425,"y":0.78},{"x":0.7425,"y":0.81},{"x":0.7425,"y":0.83},
{"x":0.7575,"y":0.55},{"x":0.7575,"y":0.58},{"x":0.7575,"y":0.61},{"x":0.7575,"y":0.64},{"x":0.7575,"y":0.67},{"x":0.7575,"y":0.7},{"x":0.7575,"y":0.73},{"x":0.7575,"y":0.76},{"x":0.7575,"y":0.79},{"x":0.7575,"y":0.82},{"x":0.7575,"y":0.85},
{"x":0.7725,"y":0.57},{"x":0.7725,"y":0.6},{"x":0.7725,"y":0.63},{"x":0.7725,"y":0.66},{"x":0.7725,"y":0.69},{"x":0.7725,"y":0.72},{"x":0.7725,"y":0.75},{"x":0.7725,"y":0.78},{"x":0.7725,"y":0.81},{"x":0.7725,"y":0.84},{"x":0.7725,"y":0.87},
{"x":0.7875,"y":0.59},{"x":0.7875,"y":0.62},{"x":0.7875,"y":0.65},{"x":0.7875,"y":0.68},{"x":0.7875,"y":0.71},{"x":0.7875,"y":0.74},{"x":0.7875,"y":0.77},{"x":0.7875,"y":0.8},{"x":0.7875,"y":0.83},{"x":0.7875,"y":0.86},{"x":0.7875,"y":0.88},
{"x":0.8025,"y":0.615},{"x":0.8025,"y":0.645},{"x":0.8025,"y":0.675},{"x":0.8025,"y":0.705},{"x":0.8025,"y":0.735},{"x":0.8025,"y":0.765},{"x":0.8025,"y":0.795},{"x":0.8025,"y":0.825},{"x":0.8025,"y":0.855},{"x":0.8025,"y":0.885},{"x":0.8025,"y":0.9},
{"x":0.8175,"y":0.64},{"x":0.8175,"y":0.67},{"x":0.8175,"y":0.7},{"x":0.8175,"y":0.73},{"x":0.8175,"y":0.76},{"x":0.8175,"y":0.79},{"x":0.8175,"y":0.82},{"x":0.8175,"y":0.85},{"x":0.8175,"y":0.88},{"x":0.8175,"y":0.91},
{"x":0.8325,"y":0.67},{"x":0.8325,"y":0.7},{"x":0.8325,"y":0.73},{"x":0.8325,"y":0.76},{"x":0.8325,"y":0.79},{"x":0.8325,"y":0.82},{"x":0.8325,"y":0.85},{"x":0.8325,"y":0.88},{"x":0.8325,"y":0.91},{"x":0.8325,"y":0.93},
{"x":0.8475,"y":0.695},{"x":0.8475,"y":0.725},{"x":0.8475,"y":0.755},{"x":0.8475,"y":0.785},{"x":0.8475,"y":0.815},{"x":0.8475,"y":0.845},{"x":0.8475,"y":0.875},{"x":0.8475,"y":0.905},{"x":0.8475,"y":0.935},{"x":0.8475,"y":0.95},
{"x":0.8625,"y":0.72},{"x":0.8625,"y":0.75},{"x":0.8625,"y":0.78},{"x":0.8625,"y":0.81},{"x":0.8625,"y":0.84},{"x":0.8625,"y":0.87},{"x":0.8625,"y":0.9},{"x":0.8625,"y":0.93},{"x":0.8625,"y":0.96},
{"x":0.8775,"y":0.745},{"x":0.8775,"y":0.775},{"x":0.8775,"y":0.805},{"x":0.8775,"y":0.835},{"x":0.8775,"y":0.865},{"x":0.8775,"y":0.895},{"x":0.8775,"y":0.925},{"x":0.8775,"y":0.955},{"x":0.8775,"y":0.975},
{"x":0.8925,"y":0.77},{"x":0.8925,"y":0.8},{"x":0.8925,"y":0.83},{"x":0.8925,"y":0.86},{"x":0.8925,"y":0.89},{"x":0.8925,"y":0.92},{"x":0.8925,"y":0.95},{"x":0.8925,"y":0.975},
{"x":0.9075,"y":0.795},{"x":0.9075,"y":0.825},{"x":0.9075,"y":0.855},{"x":0.9075,"y":0.885},{"x":0.9075,"y":0.915},{"x":0.9075,"y":0.945},{"x":0.9075,"y":0.975},
{"x":0.9225,"y":0.82},{"x":0.9225,"y":0.85},{"x":0.9225,"y":0.88},{"x":0.9225,"y":0.91},{"x":0.9225,"y":0.94},{"x":0.9225,"y":0.97},{"x":0.9225,"y":0.99},
{"x":0.9375,"y":0.84},{"x":0.9375,"y":0.87},{"x":0.9375,"y":0.9},{"x":0.9375,"y":0.93},{"x":0.9375,"y":0.96},{"x":0.9375,"y":0.985},
{"x":0.9525,"y":0.86},{"x":0.9525,"y":0.89},{"x":0.9525,"y":0.92},{"x":0.9525,"y":0.95},{"x":0.9525,"y":0.98},
{"x":0.9675,"y":0.885},{"x":0.9675,"y":0.915},{"x":0.9675,"y":0.945},{"x":0.9675,"y":0.975}],
"tB":[{"lo":0.55,"hi":0.56,"n":1},{"lo":0.56,"hi":0.57,"n":2},{"lo":0.59,"hi":0.60,"n":1},{"lo":0.63,"hi":0.64,"n":3},{"lo":0.64,"hi":0.65,"n":1},{"lo":0.65,"hi":0.66,"n":1},{"lo":0.69,"hi":0.70,"n":3},{"lo":0.70,"hi":0.71,"n":1},{"lo":0.71,"hi":0.72,"n":2},{"lo":0.75,"hi":0.76,"n":1},{"lo":0.76,"hi":0.77,"n":2},{"lo":0.77,"hi":0.78,"n":2},{"lo":0.78,"hi":0.79,"n":1},{"lo":0.79,"hi":0.80,"n":1},{"lo":0.80,"hi":0.81,"n":2},{"lo":0.81,"hi":0.82,"n":3},{"lo":0.82,"hi":0.83,"n":2},{"lo":0.83,"hi":0.84,"n":1},{"lo":0.84,"hi":0.85,"n":1},{"lo":0.85,"hi":0.86,"n":2},{"lo":0.86,"hi":0.87,"n":4},{"lo":0.88,"hi":0.89,"n":1},{"lo":0.89,"hi":0.90,"n":2},{"lo":0.90,"hi":0.91,"n":2},{"lo":0.91,"hi":0.92,"n":4},{"lo":0.92,"hi":0.93,"n":1},{"lo":0.93,"hi":0.94,"n":4},{"lo":0.94,"hi":0.95,"n":2}],
"rB":[{"lo":0.80,"hi":0.85,"n":1},{"lo":0.75,"hi":0.80,"n":2},{"lo":0.70,"hi":0.75,"n":2},{"lo":0.65,"hi":0.70,"n":5},{"lo":0.60,"hi":0.65,"n":4},{"lo":0.55,"hi":0.60,"n":9},{"lo":0.50,"hi":0.55,"n":3},{"lo":0.45,"hi":0.50,"n":6},{"lo":0.40,"hi":0.45,"n":2},{"lo":0.35,"hi":0.40,"n":5},{"lo":0.30,"hi":0.35,"n":1},{"lo":0.25,"hi":0.30,"n":4},{"lo":0.20,"hi":0.25,"n":4},{"lo":0.15,"hi":0.20,"n":1},{"lo":0.10,"hi":0.15,"n":3},{"lo":0,"hi":0.05,"n":1}],
"tC":[{"lo":0.55,"hi":0.56,"n":1},{"lo":0.57,"hi":0.58,"n":1},{"lo":0.58,"hi":0.59,"n":1},{"lo":0.59,"hi":0.60,"n":1},{"lo":0.60,"hi":0.61,"n":2},{"lo":0.62,"hi":0.63,"n":1},{"lo":0.63,"hi":0.64,"n":1},{"lo":0.64,"hi":0.65,"n":1},{"lo":0.65,"hi":0.66,"n":1},{"lo":0.67,"hi":0.68,"n":5},{"lo":0.68,"hi":0.69,"n":1},{"lo":0.69,"hi":0.70,"n":1},{"lo":0.70,"hi":0.71,"n":2},{"lo":0.71,"hi":0.72,"n":2},{"lo":0.72,"hi":0.73,"n":3},{"lo":0.73,"hi":0.74,"n":2},{"lo":0.74,"hi":0.75,"n":1},{"lo":0.75,"hi":0.76,"n":6},{"lo":0.76,"hi":0.77,"n":2},{"lo":0.77,"hi":0.78,"n":4},{"lo":0.78,"hi":0.79,"n":5},{"lo":0.79,"hi":0.80,"n":2},{"lo":0.80,"hi":0.81,"n":2},{"lo":0.81,"hi":0.82,"n":8},{"lo":0.82,"hi":0.83,"n":1},{"lo":0.83,"hi":0.84,"n":2},{"lo":0.84,"hi":0.85,"n":5},{"lo":0.85,"hi":0.86,"n":5},{"lo":0.86,"hi":0.87,"n":1},{"lo":0.87,"hi":0.88,"n":1},{"lo":0.88,"hi":0.89,"n":2},{"lo":0.89,"hi":0.90,"n":1},{"lo":0.90,"hi":0.91,"n":3},{"lo":0.91,"hi":0.92,"n":1},{"lo":0.92,"hi":0.93,"n":5},{"lo":0.93,"hi":0.94,"n":1}],
"rC":[{"lo":0.70,"hi":0.75,"n":1},{"lo":0.65,"hi":0.70,"n":3},{"lo":0.60,"hi":0.65,"n":4},{"lo":0.55,"hi":0.60,"n":4},{"lo":0.50,"hi":0.55,"n":3},{"lo":0.45,"hi":0.50,"n":10},{"lo":0.40,"hi":0.45,"n":10},{"lo":0.35,"hi":0.40,"n":10},{"lo":0.30,"hi":0.35,"n":6},{"lo":0.25,"hi":0.30,"n":10},{"lo":0.20,"hi":0.25,"n":4},{"lo":0.15,"hi":0.20,"n":8},{"lo":0.10,"hi":0.15,"n":5},{"lo":0.05,"hi":0.10,"n":4},{"lo":0,"hi":0.05,"n":2}],
"tD":[{"lo":0,"hi":0.02,"n":1},{"lo":0.02,"hi":0.04,"n":1},{"lo":0.04,"hi":0.06,"n":1},{"lo":0.10,"hi":0.12,"n":1},{"lo":0.14,"hi":0.16,"n":1},{"lo":0.18,"hi":0.20,"n":1},{"lo":0.20,"hi":0.22,"n":1},{"lo":0.22,"hi":0.24,"n":2},{"lo":0.24,"hi":0.26,"n":3},{"lo":0.26,"hi":0.28,"n":3},{"lo":0.28,"hi":0.30,"n":4},{"lo":0.30,"hi":0.32,"n":6},{"lo":0.32,"hi":0.34,"n":3},{"lo":0.34,"hi":0.36,"n":7},{"lo":0.36,"hi":0.38,"n":8},{"lo":0.38,"hi":0.40,"n":15},{"lo":0.40,"hi":0.42,"n":18},{"lo":0.42,"hi":0.44,"n":18},{"lo":0.44,"hi":0.46,"n":15},{"lo":0.46,"hi":0.48,"n":24},{"lo":0.48,"hi":0.50,"n":22},{"lo":0.50,"hi":0.52,"n":23},{"lo":0.52,"hi":0.54,"n":23},{"lo":0.54,"hi":0.56,"n":35},{"lo":0.56,"hi":0.58,"n":35},{"lo":0.58,"hi":0.60,"n":37},{"lo":0.60,"hi":0.62,"n":32},{"lo":0.62,"hi":0.64,"n":37},{"lo":0.64,"hi":0.66,"n":44},{"lo":0.66,"hi":0.68,"n":40},{"lo":0.68,"hi":0.70,"n":56},{"lo":0.70,"hi":0.72,"n":53},{"lo":0.72,"hi":0.74,"n":60},{"lo":0.74,"hi":0.76,"n":71},{"lo":0.76,"hi":0.78,"n":75},{"lo":0.78,"hi":0.80,"n":80},{"lo":0.80,"hi":0.82,"n":85},{"lo":0.82,"hi":0.84,"n":90},{"lo":0.84,"hi":0.86,"n":110},{"lo":0.86,"hi":0.88,"n":109},{"lo":0.88,"hi":0.90,"n":113},{"lo":0.90,"hi":0.92,"n":125},{"lo":0.92,"hi":0.94,"n":109},{"lo":0.94,"hi":0.96,"n":89},{"lo":0.96,"hi":0.98,"n":56},{"lo":0.98,"hi":1,"n":6}],
"rD":[{"lo":0.95,"hi":1,"n":98},{"lo":0.90,"hi":0.95,"n":265},{"lo":0.85,"hi":0.90,"n":330},{"lo":0.80,"hi":0.85,"n":258},{"lo":0.75,"hi":0.80,"n":194},{"lo":0.70,"hi":0.75,"n":204},{"lo":0.65,"hi":0.70,"n":170},{"lo":0.60,"hi":0.65,"n":139},{"lo":0.55,"hi":0.60,"n":122},{"lo":0.50,"hi":0.55,"n":105},{"lo":0.45,"hi":0.50,"n":88},{"lo":0.40,"hi":0.45,"n":71},{"lo":0.35,"hi":0.40,"n":58},{"lo":0.30,"hi":0.35,"n":44},{"lo":0.25,"hi":0.30,"n":31},{"lo":0.20,"hi":0.25,"n":27},{"lo":0.15,"hi":0.20,"n":7},{"lo":0.10,"hi":0.15,"n":3},{"lo":0.05,"hi":0.10,"n":2},{"lo":0,"hi":0.05,"n":2}],
"tE":[{"lo":0.61,"hi":0.62,"n":1},{"lo":0.65,"hi":0.66,"n":1},{"lo":0.66,"hi":0.67,"n":2},{"lo":0.67,"hi":0.68,"n":1},{"lo":0.68,"hi":0.69,"n":1},{"lo":0.70,"hi":0.71,"n":5},{"lo":0.71,"hi":0.72,"n":1},{"lo":0.72,"hi":0.73,"n":1},{"lo":0.73,"hi":0.74,"n":1},{"lo":0.75,"hi":0.76,"n":2},{"lo":0.76,"hi":0.77,"n":1},{"lo":0.77,"hi":0.78,"n":1},{"lo":0.78,"hi":0.79,"n":1},{"lo":0.80,"hi":0.81,"n":1},{"lo":0.81,"hi":0.82,"n":4},{"lo":0.82,"hi":0.83,"n":2},{"lo":0.83,"hi":0.84,"n":2},{"lo":0.84,"hi":0.85,"n":2},{"lo":0.85,"hi":0.86,"n":5},{"lo":0.86,"hi":0.87,"n":4},{"lo":0.87,"hi":0.88,"n":1},{"lo":0.88,"hi":0.89,"n":4},{"lo":0.89,"hi":0.90,"n":3},{"lo":0.90,"hi":0.91,"n":5},{"lo":0.92,"hi":0.93,"n":5},{"lo":0.93,"hi":0.94,"n":3},{"lo":0.96,"hi":0.97,"n":2}],
"rE":[{"lo":0.80,"hi":0.85,"n":3},{"lo":0.75,"hi":0.80,"n":1},{"lo":0.70,"hi":0.75,"n":6},{"lo":0.65,"hi":0.70,"n":5},{"lo":0.60,"hi":0.65,"n":3},{"lo":0.55,"hi":0.60,"n":4},{"lo":0.50,"hi":0.55,"n":8},{"lo":0.45,"hi":0.50,"n":4},{"lo":0.40,"hi":0.45,"n":4},{"lo":0.35,"hi":0.40,"n":6},{"lo":0.30,"hi":0.35,"n":3},{"lo":0.25,"hi":0.30,"n":1},{"lo":0.20,"hi":0.25,"n":2},{"lo":0.15,"hi":0.20,"n":2},{"lo":0.10,"hi":0.15,"n":4},{"lo":0.05,"hi":0.10,"n":3},{"lo":0,"hi":0.05,"n":3}]
},
"vconcat":[
{"bounds":"flush","spacing":719.5,"resolve":{"scale":{"color":"independent"}},"vconcat":[
 {"bounds":"flush","spacing":1364,"resolve":{"scale":{"color":"independent"}},"hconcat":[
  {"bounds":"flush","spacing":8,"resolve":{"scale":{"color":"independent"}},"hconcat":[
   {"width":1127.5,"height":711.5,"view":{"stroke":"black","strokeWidth":2},
    "title":{"text":"A","anchor":"start","frame":"group","font":"Liberation Sans","fontSize":46,"fontWeight":"bold","dx":-51,"offset":-41,"color":"black"},
    "resolve":{"scale":{"color":"independent"}},
    "layer":[
     {"data":{"name":"heat"},"mark":{"type":"area"},"encoding":{"x":{"field":"x","type":"quantitative","scale":{"domain":[0,1],"nice":false,"zero":false},"axis":null},"y":{"field":"ct","type":"quantitative","scale":{"domain":[22,0],"nice":false,"zero":false},"axis":null},"y2":{"field":"cb"},"detail":{"field":"module"},"color":{"field":"corr","type":"quantitative","legend":null,"scale":{"domain":[-1,-0.95,-0.76,-0.42,0,0.42,0.76,0.95,1],"range":["#00ff00","#40ff40","#80ff80","#beffbe","#ffffff","#ffbebe","#ff8080","#ff4040","#ff0000"],"interpolate":"rgb"}}}},
     {"data":{"name":"heat"},"mark":{"type":"area"},"encoding":{"x":{"field":"x","type":"quantitative","axis":null},"y":{"field":"pt","type":"quantitative","axis":null},"y2":{"field":"pb"},"detail":{"field":"module"},"color":{"field":"p","type":"quantitative","legend":null,"scale":{"domain":[0,0.01,0.05,0.12,0.25,0.52,0.68,1],"range":["#0000ff","#1a1aff","#3838ff","#6060ff","#8080ff","#bfbfff","#d6d6ff","#ffffff"],"interpolate":"rgb"}}}},
     {"data":{"name":"modules"},"mark":{"type":"text","align":"left","baseline":"middle","fontSize":23,"dx":3,"dy":12,"color":"black"},"encoding":{"x":{"datum":0,"type":"quantitative","axis":null},"y":{"field":"row","type":"quantitative","axis":null},"text":{"field":"c"}}},
     {"data":{"name":"modules"},"mark":{"type":"text","align":"right","baseline":"middle","fontSize":23,"dx":-3,"dy":24,"color":"black"},"encoding":{"x":{"datum":1,"type":"quantitative","axis":null},"y":{"field":"row","type":"quantitative","axis":null},"text":{"field":"q"}}}
    ]},
   {"width":58,"height":711.5,"view":{"stroke":"black","strokeWidth":1.5},"data":{"name":"modules"},"mark":{"type":"rect"},
    "encoding":{"y":{"field":"module","type":"nominal","title":null,"sort":null,"scale":{"paddingInner":0,"paddingOuter":0},"axis":{"orient":"right","domain":false,"ticks":false,"labelFontSize":23,"labelPadding":8,"labelLimit":300,"labelOffset":3}},
    "color":{"field":"module","type":"nominal","legend":null,"scale":{"domain":["lightcyan1","grey60","orangered4","lightsteelblue1","white","bisque4","paleturquoise","brown4","skyblue3","black","darkolivegreen","darkorange","midnightblue","orange","darkgrey","lightgreen","darkred","darkmagenta","darkturquoise","darkgreen","plum1","grey"],"range":["#e0ffff","#808080","#ff4500","#b0c4de","#ffffff","#ffe4c4","#afeeee","#a52a2a","#87ceeb","#000000","#556b2f","#ff8c00","#191970","#ffa500","#a9a9a9","#90ee90","#8b0000","#8b008b","#00ced1","#006400","#dda0dd","#808080"]}}}}
  ]},
  {"bounds":"flush","spacing":0,"resolve":{"scale":{"color":"independent"}},"vconcat":[
   {"width":194.6,"height":28.5,"data":{"values":[]},"mark":"rect"},
   {"bounds":"flush","spacing":63,"resolve":{"scale":{"color":"independent"}},"vconcat":[
    {"width":194.6,"height":38,"data":{"name":"legC"},"mark":{"type":"rect"},"title":{"text":"correlation coefficient","anchor":"start","frame":"group","fontSize":23,"fontWeight":"normal","offset":2,"color":"black"},
     "encoding":{"x":{"field":"lo","type":"quantitative","title":null,"scale":{"domain":[-1,1],"nice":false,"zero":false},"axis":{"values":[-1,-0.5,0,0.5,1],"format":".1f","labelFontSize":23,"tickSize":11,"labelPadding":2,"domainColor":"black","domainWidth":1.5,"tickWidth":1.5,"grid":false}},"x2":{"field":"hi"},"color":{"field":"lo","type":"quantitative","legend":null,"scale":{"domain":[-1,-0.95,-0.76,-0.42,0,0.42,0.76,0.95,1],"range":["#00ff00","#40ff40","#80ff80","#beffbe","#ffffff","#ffbebe","#ff8080","#ff4040","#ff0000"],"interpolate":"rgb"}}}},
    {"width":194.6,"height":38,"data":{"name":"legP"},"mark":{"type":"rect"},"title":{"text":"pValue","anchor":"start","frame":"group","fontSize":23,"fontWeight":"normal","offset":1,"color":"black"},
     "encoding":{"x":{"field":"lo","type":"quantitative","title":null,"scale":{"domain":[0,1],"nice":false,"zero":false},"axis":{"values":[0,0.5,1],"format":".1f","labelFontSize":23,"tickSize":11,"labelPadding":2,"domainColor":"black","domainWidth":1.5,"tickWidth":1.5,"grid":false}},"x2":{"field":"hi"},"color":{"field":"lo","type":"quantitative","legend":null,"scale":{"domain":[0,0.01,0.05,0.12,0.25,0.52,0.68,1],"range":["#0000ff","#1a1aff","#3838ff","#6060ff","#8080ff","#bfbfff","#d6d6ff","#ffffff"],"interpolate":"rgb"}}}}
   ]}
  ]}
 ]},
 {"width":1127.5,"height":23,"data":{"values":[{"trait":"disease"}]},"mark":{"type":"rect","color":"black"},"encoding":{"x":{"field":"trait","type":"nominal","title":null,"scale":{"paddingInner":0,"paddingOuter":0},"axis":{"labelAngle":-45,"labelFontSize":23,"domain":false,"ticks":false,"labelPadding":5,"labelOffset":-7}}}}
]},
{"bounds":"flush","spacing":742,"vconcat":[
 {"bounds":"flush","spacing":52,"vconcat":[
  {"bounds":"flush","spacing":116.7,"hconcat":[
   {"width":708.5,"height":50,"data":{"name":"tB"},"mark":{"type":"rect","color":"#ffc266"},"title":{"text":"B","anchor":"start","frame":"group","font":"Liberation Sans","fontSize":46,"fontWeight":"bold","dx":-47,"offset":-36,"color":"black"},"encoding":{"x":{"field":"lo","type":"quantitative","axis":null,"scale":{"domain":[0.422,1.0703],"nice":false,"zero":false}},"x2":{"field":"hi"},"y":{"field":"n","type":"quantitative","axis":null,"scale":{"domain":[0,4],"nice":false}},"y2":{"datum":0}}},
   {"width":694.4,"height":50,"data":{"name":"tC"},"mark":{"type":"rect","color":"#ffc266"},"title":{"text":"C","anchor":"start","frame":"group","font":"Liberation Sans","fontSize":46,"fontWeight":"bold","dx":-62,"offset":-36,"color":"black"},"encoding":{"x":{"field":"lo","type":"quantitative","axis":null,"scale":{"domain":[0.416,1.074],"nice":false,"zero":false}},"x2":{"field":"hi"},"y":{"field":"n","type":"quantitative","axis":null,"scale":{"domain":[0,8],"nice":false}},"y2":{"datum":0}}}
  ]},
  {"bounds":"flush","spacing":825.2,"hconcat":[
   {"bounds":"flush","spacing":4,"hconcat":[
    {"width":708.5,"height":491,"view":{"stroke":"black","strokeWidth":1.5},"layer":[
     {"data":{"name":"pB"},"mark":{"type":"point","filled":true,"color":"#0000ff","opacity":0.68,"size":50},"encoding":{"x":{"field":"x","type":"quantitative","title":"Module Membership in plum1 module","scale":{"domain":[0.422,1.0703],"nice":false,"zero":false},"axis":{"values":[0.422,0.5,0.6,0.7,0.8,0.9,1,1.0703],"format":".1f","labelExpr":"datum.value<0.45||datum.value>1.05?'':datum.label","grid":true,"tickSize":{"condition":{"test":"datum.value<0.45||datum.value>1.05","value":7},"value":0},"domain":false,"labelPadding":10,"titlePadding":-6}},"y":{"field":"y","type":"quantitative","title":"Gene significance for disease","scale":{"domain":[-0.361,1.228],"nice":false,"zero":false},"axis":{"values":[-0.361,0,0.5,1,1.228],"format":".1f","labelExpr":"datum.value<-0.1||datum.value>1.1?'':datum.label","grid":true,"gridDash":[2,1],"tickSize":7,"domain":false,"labelPadding":5,"titlePadding":5}}}},
     {"data":{"values":[{"x":0.4344,"y":1.183}]},"mark":{"type":"point","filled":true,"color":"#0000ff","opacity":1,"size":200},"encoding":{"x":{"field":"x","type":"quantitative"},"y":{"field":"y","type":"quantitative"}}},
     {"data":{"values":[{"x":0.4344,"y":1.183,"t":": p=7.0e-14 r=0.82"}]},"mark":{"type":"text","align":"left","baseline":"middle","fontSize":15.5,"dx":9,"dy":2,"color":"black"},"encoding":{"x":{"field":"x","type":"quantitative"},"y":{"field":"y","type":"quantitative"},"text":{"field":"t"}}}
    ]},
    {"width":50,"height":491,"data":{"name":"rB"},"mark":{"type":"rect","color":"#ff6666"},"encoding":{"y":{"field":"lo","type":"quantitative","axis":null,"scale":{"domain":[-0.361,1.228],"nice":false,"zero":false}},"y2":{"field":"hi"},"x":{"field":"n","type":"quantitative","axis":null,"scale":{"domain":[0,9],"nice":false}},"x2":{"datum":0}}}
   ]},
   {"bounds":"flush","spacing":4,"hconcat":[
    {"width":694.4,"height":491,"view":{"stroke":"black","strokeWidth":1.5},"layer":[
     {"data":{"name":"pC"},"mark":{"type":"point","filled":true,"color":"#0000ff","opacity":0.68,"size":50},"encoding":{"x":{"field":"x","type":"quantitative","title":"Module Membership in orange module","scale":{"domain":[0.416,1.074],"nice":false,"zero":false},"axis":{"values":[0.416,0.5,0.6,0.7,0.8,0.9,1,1.074],"format":".1f","labelExpr":"datum.value<0.45||datum.value>1.05?'':datum.label","grid":true,"tickSize":{"condition":{"test":"datum.value<0.45||datum.value>1.05","value":7},"value":0},"domain":false,"labelPadding":10,"titlePadding":-6}},"y":{"field":"y","type":"quantitative","title":"Gene significance for disease","scale":{"domain":[-0.422,1.165],"nice":false,"zero":false},"axis":{"values":[-0.422,0,0.5,1,1.165],"format":".1f","labelExpr":"datum.value<-0.1||datum.value>1.1?'':datum.label","grid":true,"gridDash":[2,1],"tickSize":7,"domain":false,"labelPadding":5,"titlePadding":5}}}},
     {"data":{"values":[{"x":0.429,"y":1.12}]},"mark":{"type":"point","filled":true,"color":"#0000ff","opacity":1,"size":200},"encoding":{"x":{"field":"x","type":"quantitative"},"y":{"field":"y","type":"quantitative"}}},
     {"data":{"values":[{"x":0.429,"y":1.12,"t":": p=1.5e-4 r=0.40"}]},"mark":{"type":"text","align":"left","baseline":"middle","fontSize":15.5,"dx":9,"dy":2,"color":"black"},"encoding":{"x":{"field":"x","type":"quantitative"},"y":{"field":"y","type":"quantitative"},"text":{"field":"t"}}}
    ]},
    {"width":50,"height":491,"data":{"name":"rC"},"mark":{"type":"rect","color":"#ff6666"},"encoding":{"y":{"field":"lo","type":"quantitative","axis":null,"scale":{"domain":[-0.422,1.165],"nice":false,"zero":false}},"y2":{"field":"hi"},"x":{"field":"n","type":"quantitative","axis":null,"scale":{"domain":[0,10],"nice":false}},"x2":{"datum":0}}}
   ]}
  ]}
 ]},
 {"bounds":"flush","spacing":51,"vconcat":[
  {"bounds":"flush","spacing":116.7,"hconcat":[
   {"width":708.5,"height":48.5,"data":{"name":"tD"},"mark":{"type":"rect","color":"#ffc266"},"title":{"text":"D","anchor":"start","frame":"group","font":"Liberation Sans","fontSize":46,"fontWeight":"bold","dx":-47,"offset":-37,"color":"black"},"encoding":{"x":{"field":"lo","type":"quantitative","axis":null,"scale":{"domain":[-0.2126,1.207],"nice":false,"zero":false}},"x2":{"field":"hi"},"y":{"field":"n","type":"quantitative","axis":null,"scale":{"domain":[0,125],"nice":false}},"y2":{"datum":0}}},
   {"width":694.4,"height":48.5,"data":{"name":"tE"},"mark":{"type":"rect","color":"#ffc266"},"title":{"text":"E","anchor":"start","frame":"group","font":"Liberation Sans","fontSize":46,"fontWeight":"bold","dx":-60,"offset":-37,"color":"black"},"encoding":{"x":{"field":"lo","type":"quantitative","axis":null,"scale":{"domain":[0.506,1.0748],"nice":false,"zero":false}},"x2":{"field":"hi"},"y":{"field":"n","type":"quantitative","axis":null,"scale":{"domain":[0,5],"nice":false}},"y2":{"datum":0}}}
  ]},
  {"bounds":"flush","spacing":825.2,"hconcat":[
   {"bounds":"flush","spacing":4,"hconcat":[
    {"width":708.5,"height":476,"view":{"stroke":"black","strokeWidth":1.5},"layer":[
     {"data":{"name":"pD"},"mark":{"type":"point","filled":true,"color":"#0000ff","opacity":0.72,"size":62},"encoding":{"x":{"field":"x","type":"quantitative","title":"Module Membership in paleturquoise module","scale":{"domain":[-0.2126,1.207],"nice":false,"zero":false},"axis":{"values":[-0.2126,-0.2,0,0.2,0.4,0.6,0.8,1,1.2,1.207],"format":".1f","labelExpr":"datum.value<-0.205||datum.value>1.205?'':datum.label","grid":true,"tickSize":{"condition":{"test":"datum.value<-0.205||datum.value>1.205","value":7},"value":0},"domain":false,"labelPadding":10,"titlePadding":-6}},"y":{"field":"y","type":"quantitative","title":"Gene significance for disease","scale":{"domain":[-0.3235,1.319],"nice":false,"zero":false},"axis":{"values":[-0.3235,0,0.5,1,1.319],"format":".1f","labelExpr":"datum.value<-0.1||datum.value>1.1?'':datum.label","grid":true,"gridDash":[2,1],"tickSize":7,"domain":false,"labelPadding":5,"titlePadding":5}}}},
     {"data":{"values":[{"x":-0.1855,"y":1.272}]},"mark":{"type":"point","filled":true,"color":"#0000ff","opacity":1,"size":200},"encoding":{"x":{"field":"x","type":"quantitative"},"y":{"field":"y","type":"quantitative"}}},
     {"data":{"values":[{"x":-0.1855,"y":1.272,"t":": p=0.0e+0 r=0.95"}]},"mark":{"type":"text","align":"left","baseline":"middle","fontSize":15.5,"dx":9,"dy":2,"color":"black"},"encoding":{"x":{"field":"x","type":"quantitative"},"y":{"field":"y","type":"quantitative"},"text":{"field":"t"}}}
    ]},
    {"width":50,"height":476,"data":{"name":"rD"},"mark":{"type":"rect","color":"#ff6666"},"encoding":{"y":{"field":"lo","type":"quantitative","axis":null,"scale":{"domain":[-0.3235,1.319],"nice":false,"zero":false}},"y2":{"field":"hi"},"x":{"field":"n","type":"quantitative","axis":null,"scale":{"domain":[0,330],"nice":false}},"x2":{"datum":0}}}
   ]},
   {"bounds":"flush","spacing":4,"hconcat":[
    {"width":694.4,"height":476,"view":{"stroke":"black","strokeWidth":1.5},"layer":[
     {"data":{"name":"pE"},"mark":{"type":"point","filled":true,"color":"#0000ff","opacity":0.68,"size":50},"encoding":{"x":{"field":"x","type":"quantitative","title":"Module Membership in darkolivegreen module","scale":{"domain":[0.506,1.0748],"nice":false,"zero":false},"axis":{"values":[0.506,0.6,0.7,0.8,0.9,1,1.0748],"format":".1f","labelExpr":"datum.value<0.55||datum.value>1.05?'':datum.label","grid":true,"tickSize":{"condition":{"test":"datum.value<0.55||datum.value>1.05","value":7},"value":0},"domain":false,"labelPadding":10,"titlePadding":-6}},"y":{"field":"y","type":"quantitative","title":"Gene significance for disease","scale":{"domain":[-0.371,1.2106],"nice":false,"zero":false},"axis":{"values":[-0.371,0,0.5,1,1.2106],"format":".1f","labelExpr":"datum.value<-0.1||datum.value>1.1?'':datum.label","grid":true,"gridDash":[2,1],"tickSize":7,"domain":false,"labelPadding":5,"titlePadding":5}}}},
     {"data":{"values":[{"x":0.517,"y":1.165}]},"mark":{"type":"point","filled":true,"color":"#0000ff","opacity":1,"size":200},"encoding":{"x":{"field":"x","type":"quantitative"},"y":{"field":"y","type":"quantitative"}}},
     {"data":{"values":[{"x":0.517,"y":1.165,"t":": p=3.1e-8 r=0.63"}]},"mark":{"type":"text","align":"left","baseline":"middle","fontSize":15.5,"dx":9,"dy":2,"color":"black"},"encoding":{"x":{"field":"x","type":"quantitative"},"y":{"field":"y","type":"quantitative"},"text":{"field":"t"}}}
    ]},
    {"width":50,"height":476,"data":{"name":"rE"},"mark":{"type":"rect","color":"#ff6666"},"encoding":{"y":{"field":"lo","type":"quantitative","axis":null,"scale":{"domain":[-0.371,1.2106],"nice":false,"zero":false}},"y2":{"field":"hi"},"x":{"field":"n","type":"quantitative","axis":null,"scale":{"domain":[0,8],"nice":false}},"x2":{"datum":0}}}
   ]}
  ]}
 ]}
]}
]}
